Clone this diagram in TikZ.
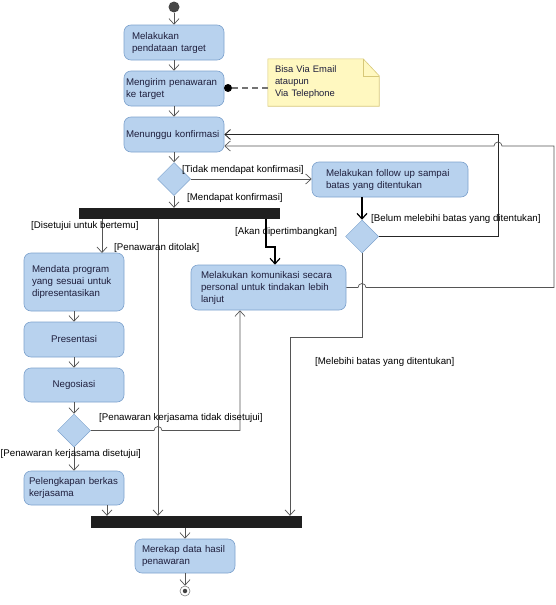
\documentclass[tikz,border=0pt]{standalone}
\usepackage{fontspec}
\setmainfont{Liberation Sans}
\usetikzlibrary{shapes.geometric,arrows.meta,calc,backgrounds}
\definecolor{boxfill}{RGB}{184,210,238}
\definecolor{boxdraw}{RGB}{125,162,205}
\definecolor{notefill}{RGB}{255,248,192}
\definecolor{notedraw}{RGB}{215,200,120}
\definecolor{txt}{RGB}{30,30,60}
\definecolor{edgec}{RGB}{85,85,85}
\begin{document}
\begin{tikzpicture}[x=1pt,y=-1pt,
  font=\fontsize{9.7}{12}\selectfont,
  act/.style={draw=boxdraw, fill=boxfill, rounded corners=7pt, minimum height=35pt,
    align=left, inner ysep=3pt, text=txt, line width=0.6pt},
  dec/.style={diamond, draw=boxdraw, fill=boxfill, minimum width=33pt, minimum height=33pt, inner sep=0pt, line width=0.5pt},
  bar/.style={fill=black!88, draw=none, inner sep=0pt},
  flow/.style={draw=edgec, line width=0.7pt, -{Straight Barb[length=5.5pt,width=10pt]}},
  strong/.style={draw=black, line width=1.2pt},
  lbl/.style={inner sep=0pt, text=black, font=\fontsize{9.7}{11}\selectfont}]
\useasboundingbox (0,0) rectangle (556,605);

% start / end
\node[circle, fill=black!72, minimum size=11pt, inner sep=0pt] (start) at (174,7) {};
\node[circle, draw=black!50, fill=white, minimum size=10pt, inner sep=0pt, line width=0.6pt] (final) at (185,591) {};
\node[circle, fill=black!75, minimum size=4.5pt, inner sep=0pt] (finaldot) at (final) {};

% activities
\node[act, text width=84pt, inner xsep=8pt] (b1) at (174,42.5) {Melakukan\\pendataan target};
\node[act, text width=96pt, inner xsep=2pt] (b2) at (174,88.5) {Mengirim penawaran\\ke target};
\node[act, text width=96pt, inner xsep=2pt] (b3) at (174,134.5) {Menunggu konfirmasi};
\node[act, text width=128pt, inner xsep=14pt] (follow) at (390,179.5) {Melakukan follow up sampai\\batas yang ditentukan};
\node[act, text width=84pt, inner xsep=8pt, minimum height=58pt] (mendata) at (74,282) {Mendata program\\yang sesuai untuk\\dipresentasikan};
\node[act, text width=96pt, inner xsep=2pt, align=center] (present) at (74,339.5) {Presentasi};
\node[act, text width=96pt, inner xsep=2pt, align=center, minimum height=34pt] (nego) at (74,385) {Negosiasi};
\node[act, text width=90pt, inner xsep=5pt, minimum height=34pt] (pelengkapan) at (74,488) {Pelengkapan berkas\\kerjasama};
\node[act, text width=135pt, inner xsep=10pt, minimum height=45pt] (komunikasi) at (268.5,287.5) {Melakukan komunikasi secara\\personal untuk tindakan lebih\\lanjut};
\node[act, text width=86pt, inner xsep=7pt, minimum height=34pt] (merekap) at (185,556) {Merekap data hasil\\penawaran};

% decisions
\node[dec] (d1) at (174,179) {};
\node[dec] (d2) at (362,236.5) {};
\node[dec] (d3) at (74,430.5) {};

% fork / join bars
\node[bar, minimum width=201pt, minimum height=11pt] (fork1) at (179.5,213.5) {};
\node[bar, minimum width=211pt, minimum height=12pt] (fork2) at (196.5,522) {};

% note
\node[inner xsep=7pt, inner ysep=0pt, text width=97pt, minimum height=47pt, align=left, text=txt,
      font=\fontsize{9.4}{12}\selectfont] (note) at (323.5,82.5) {Bisa Via Email\\ataupun\\Via Telephone};
\begin{scope}[on background layer]
  \draw[draw=notedraw, fill=notefill, line width=0.6pt]
    (note.north west) -- ([xshift=-16pt]note.north east) -- ([yshift=-17pt]note.north east)
    -- (note.south east) -- (note.south west) -- cycle;
  \draw[draw=notedraw, line width=0.6pt]
    ([xshift=-16pt]note.north east) -- ([xshift=-16pt,yshift=-17pt]note.north east) -- ([yshift=-17pt]note.north east);
\end{scope}
\node[circle, fill=black, minimum size=8pt, inner sep=0pt] (dot) at (228,88) {};
\draw[draw=black!55, line width=1.1pt, dash pattern=on 6pt off 4pt] (dot) -- (dot -| note.west);

% coordinates
\coordinate (c1) at (498,134.5);
\coordinate (hA) at (362,287.5);
\coordinate (k1) at (554,287.5);
\coordinate (k2) at (554,146);
\coordinate (hB) at (498,146);
\coordinate (mdin) at (102,253);
\coordinate (tol) at (158,400);
\coordinate (ak1) at (266,247);
\coordinate (ak2) at (275,247);
\coordinate (hC) at (158,430.5);
\coordinate (k3) at (240,430.5);
\coordinate (pin) at (107,510);
\coordinate (m1) at (362,337);
\coordinate (m2) at (290,337);

% edges
\draw[flow] (start.south) -- (b1.north);
\draw[flow] (b1.south) -- (b2.north);
\draw[flow] (b2.south) -- (b3.north);
\draw[flow] (b3.south) -- (d1.north);
\draw[flow] (d1.east) -- (d1.east -| follow.west);
\draw[flow] (d1.south) -- (d1.south |- fork1.north);
\draw[flow, strong] (d2 |- follow.south) -- (d2.north);
\draw[flow, draw=black!85, line width=0.9pt] (d2.east) -| (c1) -- (b3.east);
\draw[flow] (komunikasi.east) -- ($(hA)+(-4,0)$) arc[start angle=180,end angle=0,radius=4pt]
   -- (k1) -- (k2) -- ($(hB)+(4,0)$) arc[start angle=0,end angle=180,radius=4pt]
   -- ([yshift=-11.5pt]b3.east);
\draw[flow] (fork1.south -| mdin) -- (mdin);
\draw[flow] (fork1.south -| tol) -- (fork2.north -| tol);
\draw[flow, strong] (fork1.south -| ak1) -- (ak1) -- (ak2) -- (ak2 |- komunikasi.north);
\draw[flow] (mendata.south) -- (present.north);
\draw[flow] (present.south) -- (nego.north);
\draw[flow] (nego.south) -- (d3.north);
\draw[flow] (d3.south) -- (pelengkapan.north);
\draw[flow] (d3.east) -- ($(hC)+(-4,0)$) arc[start angle=180,end angle=0,radius=4pt]
   -- (k3) -- (k3 |- komunikasi.south);
\draw[flow] (pin |- pelengkapan.south) -- (pin |- fork2.north);
\draw[flow] (d2.south) -- (m1) -- (m2) -- (m2 |- fork2.north);
\draw[flow] (fork2.south -| merekap) -- (merekap.north);
\draw[flow] (merekap.south) -- (final.north);

% guard labels
\node[lbl, anchor=west] (l1) at (182,170) {[Tidak mendapat konfirmasi]};
\node[lbl, anchor=west] (l2) at (187,198) {[Mendapat konfirmasi]};
\node[lbl, anchor=west] (l3) at (371,219) {[Belum melebihi batas yang ditentukan]};
\node[lbl, anchor=west] (l4) at (31,226) {[Disetujui untuk bertemu]};
\node[lbl, anchor=west] (l5) at (114,248) {[Penawaran ditolak]};
\node[lbl, anchor=west] (l6) at (235,232) {[Akan dipertimbangkan]};
\node[lbl, anchor=west] (l7) at (315,362) {[Melebihi batas yang ditentukan]};
\node[lbl, anchor=west] (l8) at (99,418) {[Penawaran kerjasama tidak disetujui]};
\node[lbl, anchor=west] (l9) at (0.5,454) {[Penawaran kerjasama disetujui]};
\end{tikzpicture}
\end{document}
